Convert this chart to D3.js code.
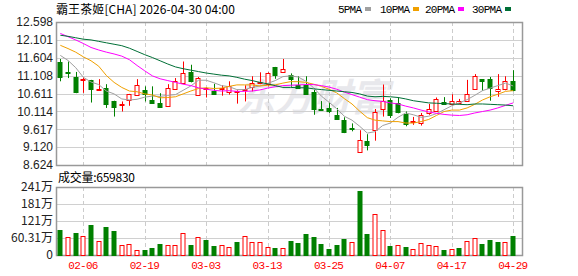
<!DOCTYPE html>
<html>
<head>
<meta charset="utf-8">
<script src="https://cdn.jsdelivr.net/npm/d3@7"></script>
<style>
    body { margin: 0; background: #fff; }
    svg { display: block; }
</style>
</head>
<body>
<svg id="kline_chart"></svg>
<script>
// trading days shown (US market, 2026)
const dates = [
    '02-03','02-04','02-05','02-06','02-09','02-10','02-11','02-12','02-13','02-17',
    '02-18','02-19','02-20','02-23','02-24','02-25','02-26','02-27','03-02','03-03',
    '03-04','03-05','03-06','03-09','03-10','03-11','03-12','03-13','03-16','03-17',
    '03-18','03-19','03-20','03-23','03-24','03-25','03-26','03-27','03-30','03-31',
    '04-01','04-02','04-06','04-07','04-08','04-09','04-10','04-13','04-14','04-15',
    '04-16','04-17','04-20','04-21','04-22','04-23','04-24','04-27','04-28','04-29'
]
const opens = [
    11.49,11.22,11.06,10.99,10.98,10.72,10.76,10.40,10.30,10.41,
    10.56,10.71,10.43,10.35,10.25,10.74,10.89,11.21,10.58,10.74,
    10.69,10.74,10.65,10.68,10.72,10.80,10.92,10.86,11.35,11.20,
    11.12,10.84,10.86,10.65,10.17,10.21,10.00,9.87,9.66,9.00,
    9.28,9.60,10.20,10.43,10.35,10.05,9.82,9.79,10.06,10.11,
    10.37,10.33,10.34,10.41,10.74,11.01,11.01,10.69,10.74,10.97
]
const highs = [
    11.57,11.50,11.21,11.06,10.99,11.01,10.87,10.41,10.39,10.60,
    11.01,10.81,10.81,10.62,10.87,11.04,11.50,11.41,11.07,10.78,
    10.88,10.84,10.95,10.70,10.84,11.09,11.20,11.20,11.35,11.57,
    11.17,11.09,11.09,10.71,10.40,10.35,10.21,9.95,9.78,9.59,
    9.48,10.18,10.86,10.48,10.50,10.11,9.96,10.07,10.32,10.50,
    10.51,10.59,10.46,10.99,11.15,11.01,11.07,11.15,11.09,11.26
]
const lows = [
    10.95,11.04,10.62,10.63,10.36,10.69,10.21,9.97,10.11,10.27,
    10.55,10.39,10.32,10.21,10.24,10.73,10.87,10.92,10.56,10.50,
    10.58,10.55,10.58,10.33,10.39,10.67,10.87,10.81,11.02,11.20,
    10.80,10.74,10.60,10.02,10.13,10.07,9.88,9.51,9.56,8.97,
    9.03,9.30,9.97,9.93,10.06,9.70,9.74,9.72,10.02,10.10,
    10.31,10.28,10.31,10.41,10.74,10.69,10.41,10.52,10.70,10.67
]
const closes = [
    11.07,11.21,10.63,11.02,10.72,10.74,10.32,10.22,10.32,10.59,
    10.84,10.61,10.36,10.23,10.75,10.95,11.18,10.97,11.05,10.75,
    10.61,10.76,10.81,10.69,10.74,10.91,10.93,11.17,11.12,11.28,
    11.00,10.76,10.60,10.19,10.16,10.13,9.88,9.54,9.65,9.32,
    9.16,10.09,10.41,10.00,10.09,9.77,9.85,10.02,10.17,10.45,
    10.31,10.41,10.40,10.61,11.09,10.95,10.76,10.74,10.95,10.72
]
const volumes = [
    887000,639000,780000,674000,1064000,486000,993000,851000,344000,401000,
    167000,177000,248000,390000,344000,344000,770000,355000,628000,532000,
    330000,344000,273000,461000,663000,451000,451000,284000,248000,248000,
    497000,426000,745000,639000,390000,213000,355000,568000,451000,2271000,
    745000,1444000,876000,319000,344000,284000,202000,415000,355000,319000,
    177000,202000,248000,486000,592000,390000,532000,461000,461000,659830
]
const ma5 = [
    11.67,11.53,11.33,11.06,10.93,10.86,10.68,10.60,10.46,10.43,
    10.45,10.51,10.54,10.53,10.56,10.58,10.70,10.82,10.98,10.98,
    10.91,10.83,10.80,10.72,10.72,10.78,10.82,10.89,10.97,11.08,
    11.10,11.07,10.95,10.77,10.54,10.37,10.19,9.98,9.87,9.70,
    9.51,9.55,9.72,9.79,9.95,10.07,10.02,9.95,9.98,10.05,
    10.16,10.27,10.35,10.44,10.56,10.69,10.76,10.83,10.90,10.82
]
const ma10 = [
    11.95,11.86,11.76,11.63,11.52,11.37,11.11,10.92,10.78,10.68,
    10.66,10.60,10.57,10.49,10.50,10.52,10.60,10.68,10.75,10.77,
    10.75,10.76,10.81,10.85,10.85,10.85,10.82,10.84,10.85,10.90,
    10.94,10.94,10.92,10.87,10.81,10.73,10.63,10.47,10.32,10.12,
    9.94,9.87,9.85,9.83,9.83,9.79,9.79,9.83,9.89,10.00,
    10.11,10.15,10.15,10.21,10.31,10.43,10.52,10.59,10.67,10.69
]
const ma20 = [
    12.28,12.19,12.10,12.00,11.89,11.82,11.76,11.71,11.65,11.55,
    11.39,11.24,11.10,11.02,10.97,10.92,10.87,10.83,10.77,10.73,
    10.70,10.68,10.69,10.67,10.67,10.68,10.71,10.76,10.80,10.83,
    10.84,10.85,10.86,10.86,10.83,10.79,10.73,10.65,10.58,10.51,
    10.44,10.41,10.39,10.35,10.32,10.26,10.21,10.15,10.10,10.06,
    10.03,10.01,10.00,10.02,10.07,10.11,10.15,10.21,10.28,10.35
]
const ma30 = [
    12.23,12.20,12.16,12.12,12.10,12.06,12.02,11.98,11.94,11.87,
    11.78,11.69,11.61,11.52,11.43,11.35,11.30,11.26,11.22,11.18,
    11.15,11.12,11.10,11.06,11.01,10.97,10.92,10.88,10.83,10.78,
    10.78,10.77,10.77,10.74,10.72,10.70,10.68,10.66,10.64,10.60,
    10.54,10.52,10.53,10.52,10.50,10.46,10.41,10.38,10.35,10.34,
    10.33,10.32,10.31,10.30,10.32,10.32,10.31,10.30,10.29,10.27
]

const priceTicks = [8.624, 9.120, 9.617, 10.114, 10.611, 11.108, 11.604, 12.101, 12.598]
const volTicks = [0, 603100, 1206200, 1809300, 2412400]
const volTickLabels = ['0', '60.31万', '121万', '181万', '241万']
const dateTicks = ['02-06', '02-19', '03-03', '03-13', '03-25', '04-07', '04-17', '04-29']
const maNames = ['5PMA', '10PMA', '20PMA', '30PMA']
const maColors = ['#a0a0a0', '#f0a000', '#ff00ff', '#006f36']

const width = 578
const height = 276
const UP = '#ff0000'
const DOWN = '#008000'

const svg = d3.select('#kline_chart')
    .attr('width', width)
    .attr('height', height)
    .style('font-family', '"Noto Sans CJK SC", "Liberation Sans", sans-serif')

const pricePanel = {left: 56, right: 522, top: 22, bottom: 165}
const volPanel = {left: 56, right: 522, top: 187, bottom: 255}

const x = d3.scaleBand()
    .domain(dates)
    .range([56.5, 517])
const cx = d => x(d) + x.bandwidth() / 2

const yPrice = d3.scaleLinear()
    .domain([priceTicks[0], priceTicks[priceTicks.length - 1]])
    .range([pricePanel.bottom, pricePanel.top])
const yVol = d3.scaleLinear()
    .domain([0, volTicks[volTicks.length - 1]])
    .range([volPanel.bottom, volPanel.top])

// title and legend
svg.append('text')
    .attr('x', 56).attr('y', 14)
    .attr('font-size', 12)
    .attr('textLength', 179)
    .attr('fill', '#000')
    .text('霸王茶姬[CHA] 2026-04-30 04:00')

const legendX = [338, 380, 425, 472]
maNames.forEach((name, i) => {
    const w = name.length * 6
    svg.append('text')
        .attr('x', legendX[i]).attr('y', 13)
        .attr('font-size', 11)
        .attr('textLength', w)
        .attr('font-family', '"Liberation Mono", monospace')
        .attr('fill', '#000')
        .text(name)
    svg.append('rect')
        .attr('x', legendX[i] + w + 3).attr('y', 7)
        .attr('width', 6).attr('height', 4)
        .attr('fill', maColors[i])
})

// watermark
svg.append('text')
    .attr('x', 237).attr('y', 94)
    .attr('dominant-baseline', 'central')
    .attr('font-size', 38)
    .attr('font-weight', 'bold')
    .attr('font-style', 'italic')
    .attr('fill', '#e8e8ec')
    .text('东方财富')

// grid for both panels
function drawGrid(panel, yScale, ticks) {
    const g = svg.append('g')
    g.selectAll('.hgrid')
        .data(ticks.slice(1, -1))
        .join('line')
        .attr('x1', panel.left).attr('x2', panel.right)
        .attr('y1', d => Math.round(yScale(d)) + 0.5)
        .attr('y2', d => Math.round(yScale(d)) + 0.5)
        .attr('stroke', '#d0d0d0')
    g.selectAll('.vgrid')
        .data(dateTicks)
        .join('line')
        .attr('x1', d => Math.round(cx(d)) + 0.5)
        .attr('x2', d => Math.round(cx(d)) + 0.5)
        .attr('y1', panel.top).attr('y2', panel.bottom)
        .attr('stroke', '#cccccc')
        .attr('stroke-dasharray', '4,3')
    g.append('rect')
        .attr('x', panel.left + 0.5).attr('y', panel.top + 0.5)
        .attr('width', panel.right - panel.left).attr('height', panel.bottom - panel.top)
        .attr('fill', 'none')
        .attr('stroke', '#999')
        .attr('stroke-width', 1.5)
}
drawGrid(pricePanel, yPrice, priceTicks)
drawGrid(volPanel, yVol, volTicks)

// y axis labels
svg.append('g').selectAll('text')
    .data(priceTicks)
    .join('text')
    .attr('x', 53)
    .attr('y', d => yPrice(d))
    .attr('dy', '0.36em')
    .attr('text-anchor', 'end')
    .attr('font-family', '"Liberation Sans", Arial, sans-serif')
    .attr('font-size', 12)
    .attr('fill', '#222')
    .text(d => d.toFixed(3))

svg.append('g').selectAll('text')
    .data(volTicks)
    .join('text')
    .attr('x', 53)
    .attr('y', d => yVol(d))
    .attr('dy', '0.36em')
    .attr('text-anchor', 'end')
    .attr('font-size', 12)
    .attr('fill', '#222')
    .text((d, i) => volTickLabels[i])

svg.append('text')
    .attr('x', 58).attr('y', 182)
    .attr('font-size', 12)
    .attr('textLength', 77)
    .attr('fill', '#000')
    .text('成交量:' + volumes[volumes.length - 1])

// x labels
svg.append('g').selectAll('text')
    .data(dateTicks)
    .join('text')
    .attr('x', d => cx(d))
    .attr('y', 269)
    .attr('text-anchor', 'middle')
    .attr('font-family', '"Liberation Mono", monospace')
    .attr('font-size', 11)
    .attr('textLength', 30)
    .attr('fill', UP)
    .text(d => d)

// candles
const candles = dates.map((d, i) => ({
    date: d, o: opens[i], h: highs[i], l: lows[i], c: closes[i], v: volumes[i],
    up: closes[i] >= opens[i],
    volUp: i === 0 ? closes[i] >= opens[i] : closes[i] >= closes[i - 1]
}))

const bodyW = 5
const cg = svg.append('g')
cg.selectAll('.wick')
    .data(candles)
    .join('line')
    .attr('x1', d => Math.round(cx(d.date)) + 0.5)
    .attr('x2', d => Math.round(cx(d.date)) + 0.5)
    .attr('y1', d => yPrice(d.h))
    .attr('y2', d => yPrice(d.l))
    .attr('stroke', d => d.up ? UP : DOWN)
cg.selectAll('.body')
    .data(candles)
    .join('rect')
    .attr('x', d => Math.round(cx(d.date)) - 2)
    .attr('y', d => Math.round(yPrice(Math.max(d.o, d.c))) + 0.5)
    .attr('width', bodyW - 1)
    .attr('height', d => Math.max(1, Math.round(Math.abs(yPrice(d.o) - yPrice(d.c)))))
    .attr('fill', d => d.up ? '#fff' : DOWN)
    .attr('stroke', d => d.up ? UP : DOWN)

// moving averages
const maSeries = [ma5, ma10, ma20, ma30]
const line = d3.line()
    .x((d, i) => cx(dates[i]))
    .y(d => yPrice(d))
maSeries.forEach((s, i) => {
    svg.append('path')
        .datum(s)
        .attr('d', line)
        .attr('fill', 'none')
        .attr('stroke', maColors[i])
        .attr('stroke-width', 1)
})

// volume bars
svg.append('g').selectAll('rect')
    .data(candles)
    .join('rect')
    .attr('x', d => Math.round(cx(d.date)) - 2)
    .attr('y', d => Math.round(yVol(d.v)) + 0.5)
    .attr('width', bodyW - 1)
    .attr('height', d => volPanel.bottom - Math.round(yVol(d.v)))
    .attr('fill', d => d.volUp ? '#fff' : DOWN)
    .attr('stroke', d => d.volUp ? UP : DOWN)
</script>
</body>
</html>
